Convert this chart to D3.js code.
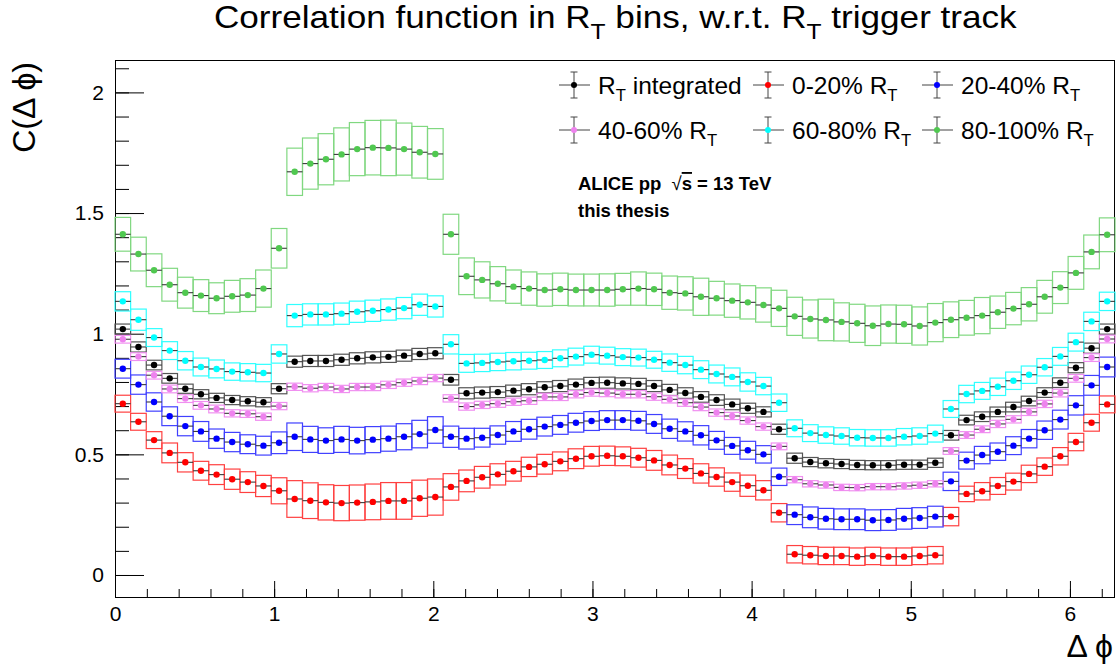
<!DOCTYPE html>
<html>
<head>
<meta charset="utf-8">
<script src="https://cdnjs.cloudflare.com/ajax/libs/d3/7.8.5/d3.min.js"></script>
<style>
  body { margin: 0; background: #fff; }
  svg { display: block; font-family: "Liberation Sans", Arial, Helvetica, sans-serif; }
</style>
</head>
<body>
<svg id="chart" width="1116" height="667"></svg>
<script>
// 64 delta-phi bins over [0, 2pi]
const nBins = 64;

const seriesLabels = [
    [["R", ""], ["T", "sub"], [" integrated", ""]],
    [["0-20% R", ""], ["T", "sub"]],
    [["20-40% R", ""], ["T", "sub"]],
    [["40-60% R", ""], ["T", "sub"]],
    [["60-80% R", ""], ["T", "sub"]],
    [["80-100% R", ""], ["T", "sub"]]
];
const markerColors = ["#000000", "#ff0000", "#0000ff", "#ee82ee", "#00ffff", "#50c850"];
const boxColors = ["#555555", "#ff4040", "#4040ff", "#f090f0", "#30ffff", "#80d880"];

const integratedValues = [1.019, 0.945, 0.870, 0.815, 0.772, 0.749, 0.734, 0.725, 0.720, 0.716,
    0.772, 0.884, 0.887, 0.887, 0.892, 0.898, 0.902, 0.904, 0.909, 0.916,
    0.919, 0.809, 0.753, 0.756, 0.758, 0.764, 0.770, 0.778, 0.783, 0.789,
    0.796, 0.797, 0.794, 0.792, 0.783, 0.767, 0.754, 0.738, 0.725, 0.707,
    0.691, 0.676, 0.604, 0.484, 0.468, 0.463, 0.460, 0.456, 0.455, 0.455,
    0.457, 0.457, 0.465, 0.579, 0.642, 0.656, 0.676, 0.696, 0.721, 0.756,
    0.797, 0.859, 0.940, 1.019];
const rt0020Values = [0.710, 0.635, 0.559, 0.506, 0.467, 0.432, 0.416, 0.397, 0.385, 0.369,
    0.349, 0.315, 0.308, 0.301, 0.298, 0.300, 0.303, 0.307, 0.307, 0.318,
    0.323, 0.365, 0.390, 0.405, 0.417, 0.430, 0.448, 0.459, 0.471, 0.482,
    0.492, 0.494, 0.492, 0.486, 0.475, 0.456, 0.441, 0.421, 0.406, 0.385,
    0.370, 0.351, 0.258, 0.086, 0.082, 0.079, 0.079, 0.076, 0.079, 0.076,
    0.076, 0.079, 0.082, 0.242, 0.336, 0.347, 0.369, 0.387, 0.419, 0.449,
    0.492, 0.551, 0.631, 0.707];
const rt2040Values = [0.855, 0.789, 0.717, 0.658, 0.617, 0.595, 0.565, 0.551, 0.542, 0.536,
    0.548, 0.573, 0.562, 0.557, 0.562, 0.557, 0.561, 0.565, 0.573, 0.584,
    0.601, 0.573, 0.565, 0.569, 0.580, 0.595, 0.604, 0.615, 0.622, 0.631,
    0.638, 0.642, 0.642, 0.639, 0.626, 0.606, 0.595, 0.579, 0.558, 0.535,
    0.517, 0.500, 0.407, 0.250, 0.239, 0.233, 0.231, 0.231, 0.227, 0.228,
    0.233, 0.236, 0.242, 0.388, 0.474, 0.497, 0.511, 0.536, 0.565, 0.600,
    0.644, 0.703, 0.786, 0.862];
const rt4060Values = [0.977, 0.905, 0.828, 0.771, 0.731, 0.703, 0.688, 0.670, 0.668, 0.656,
    0.700, 0.780, 0.774, 0.779, 0.771, 0.779, 0.779, 0.788, 0.797, 0.804,
    0.816, 0.732, 0.698, 0.705, 0.710, 0.718, 0.722, 0.738, 0.738, 0.749,
    0.756, 0.754, 0.749, 0.749, 0.739, 0.728, 0.714, 0.696, 0.673, 0.659,
    0.640, 0.615, 0.533, 0.395, 0.378, 0.373, 0.363, 0.362, 0.366, 0.366,
    0.369, 0.372, 0.378, 0.514, 0.580, 0.604, 0.626, 0.645, 0.676, 0.709,
    0.754, 0.815, 0.901, 0.978];
const rt6080Values = [1.134, 1.058, 0.984, 0.930, 0.888, 0.862, 0.854, 0.843, 0.840, 0.837,
    0.916, 1.075, 1.080, 1.080, 1.083, 1.091, 1.095, 1.100, 1.106, 1.120,
    1.113, 0.956, 0.877, 0.879, 0.883, 0.886, 0.888, 0.891, 0.898, 0.905,
    0.913, 0.909, 0.903, 0.901, 0.892, 0.880, 0.870, 0.851, 0.833, 0.821,
    0.800, 0.783, 0.714, 0.608, 0.588, 0.580, 0.576, 0.569, 0.568, 0.568,
    0.573, 0.576, 0.586, 0.688, 0.750, 0.763, 0.780, 0.805, 0.830, 0.861,
    0.906, 0.965, 1.051, 1.134];
const rt80100Values = [1.412, 1.330, 1.263, 1.203, 1.170, 1.158, 1.147, 1.155, 1.160, 1.187,
    1.354, 1.671, 1.705, 1.723, 1.743, 1.765, 1.771, 1.770, 1.765, 1.752,
    1.745, 1.412, 1.238, 1.223, 1.207, 1.195, 1.187, 1.181, 1.184, 1.181,
    1.181, 1.181, 1.184, 1.187, 1.184, 1.170, 1.167, 1.153, 1.147, 1.137,
    1.130, 1.119, 1.105, 1.072, 1.061, 1.057, 1.049, 1.043, 1.033, 1.040,
    1.039, 1.032, 1.046, 1.058, 1.066, 1.075, 1.089, 1.104, 1.122, 1.153,
    1.191, 1.252, 1.339, 1.410];

// systematic uncertainties (half height of the boxes)
const integratedSys = [0.021, 0.021, 0.020, 0.020, 0.019, 0.019, 0.019, 0.019, 0.019, 0.019,
    0.021, 0.023, 0.023, 0.023, 0.023, 0.023, 0.023, 0.023, 0.023, 0.023,
    0.023, 0.022, 0.023, 0.023, 0.023, 0.023, 0.023, 0.023, 0.023, 0.023,
    0.023, 0.023, 0.023, 0.023, 0.023, 0.023, 0.022, 0.022, 0.022, 0.022,
    0.021, 0.021, 0.021, 0.021, 0.019, 0.019, 0.019, 0.019, 0.019, 0.019,
    0.019, 0.019, 0.019, 0.020, 0.020, 0.020, 0.020, 0.020, 0.020, 0.020,
    0.020, 0.021, 0.021, 0.021];
const rt0020Sys = [0.035, 0.035, 0.035, 0.041, 0.040, 0.039, 0.041, 0.042, 0.043, 0.044,
    0.054, 0.076, 0.074, 0.073, 0.073, 0.073, 0.074, 0.076, 0.076, 0.075,
    0.075, 0.055, 0.045, 0.045, 0.044, 0.041, 0.040, 0.041, 0.039, 0.041,
    0.041, 0.040, 0.039, 0.039, 0.041, 0.041, 0.041, 0.040, 0.038, 0.038,
    0.044, 0.040, 0.038, 0.036, 0.036, 0.036, 0.036, 0.036, 0.036, 0.036,
    0.036, 0.036, 0.036, 0.038, 0.032, 0.036, 0.035, 0.035, 0.036, 0.036,
    0.036, 0.036, 0.035, 0.035];
const rt2040Sys = [0.039, 0.040, 0.038, 0.039, 0.040, 0.041, 0.040, 0.040, 0.039, 0.039,
    0.045, 0.057, 0.054, 0.053, 0.054, 0.055, 0.054, 0.052, 0.054, 0.057,
    0.055, 0.044, 0.043, 0.039, 0.038, 0.041, 0.041, 0.039, 0.039, 0.039,
    0.039, 0.039, 0.039, 0.039, 0.039, 0.040, 0.040, 0.040, 0.037, 0.035,
    0.037, 0.036, 0.036, 0.041, 0.043, 0.043, 0.043, 0.043, 0.043, 0.043,
    0.043, 0.043, 0.043, 0.038, 0.035, 0.036, 0.036, 0.037, 0.038, 0.038,
    0.039, 0.040, 0.041, 0.041];
const rt4060Sys = [0.016, 0.016, 0.016, 0.016, 0.016, 0.016, 0.016, 0.015, 0.015, 0.015,
    0.015, 0.015, 0.015, 0.015, 0.015, 0.015, 0.015, 0.015, 0.015, 0.015,
    0.015, 0.015, 0.015, 0.015, 0.015, 0.015, 0.015, 0.015, 0.015, 0.015,
    0.015, 0.015, 0.015, 0.015, 0.015, 0.015, 0.015, 0.015, 0.015, 0.015,
    0.015, 0.015, 0.014, 0.013, 0.013, 0.013, 0.013, 0.013, 0.013, 0.013,
    0.013, 0.013, 0.013, 0.014, 0.014, 0.014, 0.015, 0.015, 0.015, 0.015,
    0.016, 0.016, 0.016, 0.016];
const rt6080Sys = [0.040, 0.044, 0.037, 0.037, 0.038, 0.037, 0.037, 0.036, 0.036, 0.036,
    0.038, 0.046, 0.044, 0.044, 0.044, 0.044, 0.044, 0.044, 0.044, 0.044,
    0.044, 0.040, 0.037, 0.036, 0.036, 0.036, 0.035, 0.035, 0.035, 0.035,
    0.035, 0.035, 0.035, 0.035, 0.035, 0.036, 0.036, 0.037, 0.037, 0.037,
    0.038, 0.036, 0.036, 0.035, 0.035, 0.034, 0.034, 0.034, 0.034, 0.034,
    0.034, 0.034, 0.035, 0.035, 0.036, 0.035, 0.036, 0.036, 0.036, 0.036,
    0.037, 0.037, 0.038, 0.038];
const rt80100Sys = [0.070, 0.070, 0.068, 0.068, 0.064, 0.066, 0.064, 0.066, 0.068, 0.077,
    0.082, 0.098, 0.106, 0.106, 0.110, 0.110, 0.113, 0.115, 0.108, 0.107,
    0.105, 0.083, 0.076, 0.075, 0.071, 0.069, 0.069, 0.067, 0.067, 0.066,
    0.066, 0.067, 0.066, 0.069, 0.067, 0.069, 0.069, 0.077, 0.070, 0.069,
    0.069, 0.071, 0.075, 0.079, 0.079, 0.086, 0.079, 0.079, 0.082, 0.079,
    0.079, 0.079, 0.079, 0.074, 0.072, 0.075, 0.067, 0.067, 0.069, 0.068,
    0.066, 0.068, 0.070, 0.070];

const yMajorTicks = [0, 0.5, 1, 1.5, 2];
const xMajorTicks = [0, 1, 2, 3, 4, 5, 6];

const allValues = [integratedValues, rt0020Values, rt2040Values, rt4060Values, rt6080Values, rt80100Values];
const allSys = [integratedSys, rt0020Sys, rt2040Sys, rt4060Sys, rt6080Sys, rt80100Sys];

const series = seriesLabels.map((label, k) => ({
    label: label,
    color: markerColors[k],
    box: boxColors[k],
    points: allValues[k].map((v, i) => ({ i: i, v: v, e: allSys[k][i] }))
}));

const svg = d3.select("#chart");
const frame = { left: 115, right: 1115, top: 60, bottom: 597 };

const binW = 2 * Math.PI / nBins;
const x = d3.scaleLinear().domain([0, 2 * Math.PI]).range([frame.left, frame.right]);
const y = d3.scaleLinear().domain([-0.0912, 2.1343]).range([frame.bottom, frame.top]);

// text with subscripts, segments = [[text, "sub"|""], ...]
function addRichText(sel, segments, subScale, shift) {
    let shifted = false;
    segments.forEach(([txt, kind]) => {
        const t = sel.append("tspan").text(txt);
        if (kind === "sub" && !shifted) {
            t.attr("font-size", subScale + "em").attr("dy", shift + "em");
            shifted = true;
        } else if (kind !== "sub" && shifted) {
            t.attr("dy", (-shift * subScale) + "em");
            shifted = false;
        }
    });
}

// title
const title = svg.append("text")
    .attr("x", 0).attr("y", 28)
    .style("font-size", "31px")
    .attr("fill", "#000");
addRichText(title, [["Correlation function in R", ""], ["T", "sub"], [" bins, w.r.t. R", ""], ["T", "sub"], [" trigger track", ""]], 0.7, 0.5);
const tw = title.node().getComputedTextLength();
const targetW = 803;
title.attr("transform", `translate(214,0) scale(${targetW / tw},1)`);

// minor ticks
svg.append("g")
    .attr("transform", `translate(${frame.left},0)`)
    .call(d3.axisLeft(y).tickValues(d3.range(0, 22).map(i => i / 10)).tickSize(-14).tickSizeOuter(0).tickFormat(""))
    .call(g => g.select(".domain").remove());
svg.append("g")
    .attr("transform", `translate(0,${frame.bottom})`)
    .call(d3.axisBottom(x).tickValues(d3.range(0, 32).map(i => i / 5)).tickSize(-8).tickSizeOuter(0).tickFormat(""))
    .call(g => g.select(".domain").remove());

// major ticks + labels
const yAxis = svg.append("g")
    .attr("transform", `translate(${frame.left},0)`)
    .call(d3.axisLeft(y).tickValues(yMajorTicks).tickSize(-29).tickSizeOuter(0).tickPadding(11).tickFormat(d => String(d)));
const xAxis = svg.append("g")
    .attr("transform", `translate(0,${frame.bottom})`)
    .call(d3.axisBottom(x).tickValues(xMajorTicks).tickSize(-16).tickSizeOuter(0).tickPadding(9).tickFormat(d => String(d)));
[yAxis, xAxis].forEach(a => {
    a.selectAll(".domain").remove();
    a.selectAll("text").style("font-size", "21px").style("font-family", "Liberation Sans, Arial, sans-serif").attr("fill", "#000");
});
svg.selectAll(".tick line").attr("stroke", "#000").attr("stroke-width", 1);

// frame
svg.append("rect")
    .attr("x", frame.left + 0.5).attr("y", frame.top + 0.5)
    .attr("width", frame.right - frame.left - 1).attr("height", frame.bottom - frame.top)
    .attr("fill", "none").attr("stroke", "#000").attr("stroke-width", 1);

// axis titles
svg.append("text")
    .attr("transform", "translate(35,62) rotate(-90)")
    .attr("text-anchor", "end")
    .style("font-size", "32px")
    .text("C(\u0394 \u03d5)");
svg.append("text")
    .attr("x", 1113).attr("y", 657)
    .attr("text-anchor", "end")
    .style("font-size", "32px")
    .text("\u0394 \u03d5");

// data
const plot = svg.append("g");
series.forEach(s => {
    const g = plot.append("g");
    g.selectAll("rect")
        .data(s.points)
        .join("rect")
        .attr("x", d => x(d.i * binW))
        .attr("width", x(binW) - x(0))
        .attr("y", d => y(d.v + d.e))
        .attr("height", d => y(d.v - d.e) - y(d.v + d.e))
        .attr("fill", "none")
        .attr("stroke", s.box)
        .attr("stroke-width", 1.2);
    g.selectAll("line")
        .data(s.points)
        .join("line")
        .attr("x1", d => x(d.i * binW))
        .attr("x2", d => x((d.i + 1) * binW))
        .attr("y1", d => y(d.v))
        .attr("y2", d => y(d.v))
        .attr("stroke", "#3a3a3a")
        .attr("stroke-width", 1.1);
    g.selectAll("circle")
        .data(s.points)
        .join("circle")
        .attr("cx", d => x((d.i + 0.5) * binW))
        .attr("cy", d => y(d.v))
        .attr("r", 3.2)
        .attr("fill", s.color);
});

// legend
const legendCols = [574, 768, 937];
const legendRows = [85, 130];
series.forEach((s, k) => {
    const cx = legendCols[k % 3];
    const cy = legendRows[Math.floor(k / 3)];
    const g = svg.append("g").attr("class", "legend");
    g.append("line").attr("x1", cx - 15).attr("x2", cx + 16).attr("y1", cy).attr("y2", cy)
        .attr("stroke", "#444").attr("stroke-width", 1);
    g.append("line").attr("x1", cx).attr("x2", cx).attr("y1", cy - 13).attr("y2", cy + 13)
        .attr("stroke", "#444").attr("stroke-width", 1);
    [cy - 13, cy + 13].forEach(yy => {
        g.append("line").attr("x1", cx - 3.5).attr("x2", cx + 3.5).attr("y1", yy).attr("y2", yy)
            .attr("stroke", "#444").attr("stroke-width", 1);
    });
    g.append("circle").attr("cx", cx).attr("cy", cy).attr("r", 3).attr("fill", s.color);
    const t = g.append("text")
        .attr("x", cx + 24).attr("y", cy + 9)
        .style("font-size", "24.5px");
    addRichText(t, s.label, 0.68, 0.42);
});

// experiment label
const alice = svg.append("text")
    .attr("x", 578).attr("y", 190)
    .style("font-size", "18.5px").style("font-weight", "bold")
    .style("white-space", "pre");
alice.append("tspan").text("ALICE pp  ");
alice.append("tspan").style("font-weight", "normal").text("\u221a");
alice.append("tspan").style("text-decoration", "overline").text("s");
alice.append("tspan").text(" = 13 TeV");
svg.append("text")
    .attr("x", 578).attr("y", 216.5)
    .style("font-size", "18.5px").style("font-weight", "bold")
    .text("this thesis");
</script>
</body>
</html>
